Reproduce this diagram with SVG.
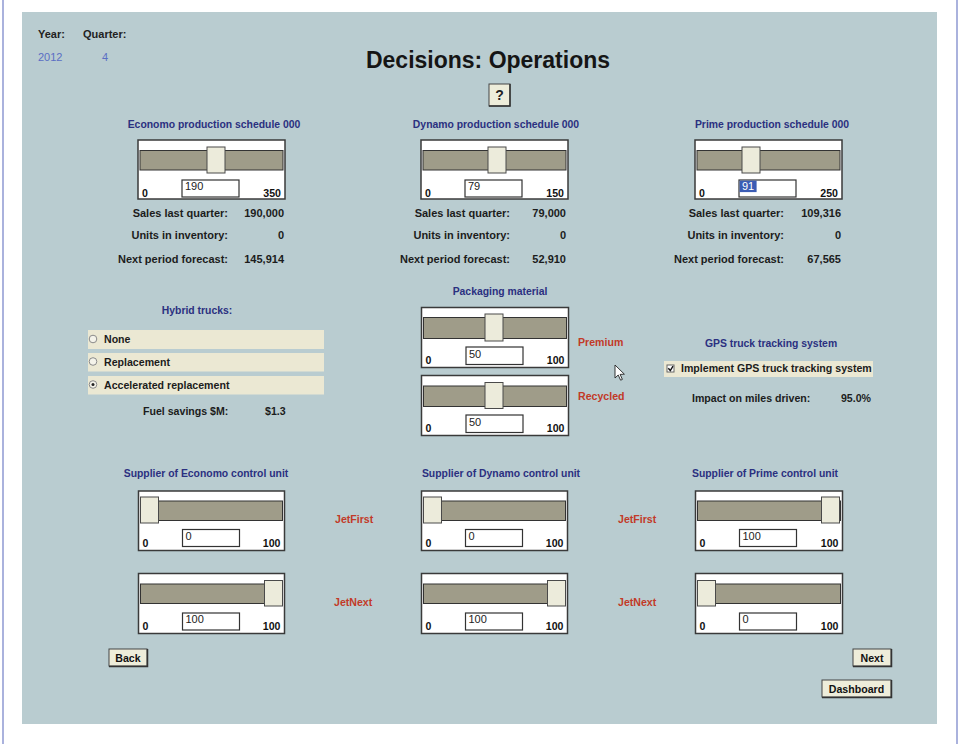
<svg xmlns="http://www.w3.org/2000/svg" width="961" height="744" viewBox="0 0 961 744">
<style>
text{font-family:"Liberation Sans",Arial,sans-serif}
.nt{font-weight:bold;font-size:10.4px;fill:#2b3080;text-anchor:middle}
.lb{font-weight:bold;font-size:10.6px;fill:#1c1c1c}
.lg{font-size:11px}
.rt{text-anchor:end}
.rd{font-weight:bold;font-size:10.6px;fill:#c23a28}
.box{fill:#fff;stroke:#3a3a3a;stroke-width:1.5}
.trk{fill:#9f9c89;stroke:#333;stroke-width:1}
.thm{fill:#ecebdb;stroke:#4a4a4a;stroke-width:1}
.inp{fill:#fff;stroke:#333;stroke-width:1.2}
.val{font-size:11px;fill:#222}
.num{font-weight:bold;font-size:10.6px;fill:#111}
.row{fill:#ebe8d3}
.btn{fill:#eeedda;stroke:#444;stroke-width:1}
.sh{fill:none;stroke:#333;stroke-width:1.5}
.bt{font-weight:bold;font-size:10.6px;fill:#111;text-anchor:middle}
</style>
<rect x="0" y="0" width="961" height="744" fill="#fff"/>
<line x1="3" y1="0" x2="3" y2="744" stroke="#8e98d2" stroke-width="1.5"/>
<line x1="957" y1="0" x2="957" y2="744" stroke="#8e98d2" stroke-width="1.5"/>
<rect x="22" y="12" width="915" height="712" fill="#b9ccd0"/>

<g id="header">
<text x="38" y="38" style="font-size:11px;font-weight:bold;fill:#222">Year:</text>
<text x="83" y="38" style="font-size:11px;font-weight:bold;fill:#222">Quarter:</text>
<text x="38" y="61" style="font-size:11px;fill:#5b6ec4">2012</text>
<text x="102" y="61" style="font-size:11px;fill:#5b6ec4">4</text>
<text x="488" y="68" style="font-size:23px;font-weight:bold;fill:#151515;text-anchor:middle">Decisions: Operations</text>
</g>

<g id="help-button">
<rect class="btn" x="489" y="84" width="21" height="22"/>
<polyline class="sh" points="489,106 510,106 510,84"/>
<text x="499.5" y="100" style="font-size:14px;font-weight:bold;fill:#222;text-anchor:middle">?</text>
</g>

<g id="economo-production">
<text class="nt" x="214" y="128">Economo production schedule 000</text>
<g transform="translate(138,140)">
<rect class="box" x="0" y="0" width="147" height="59"/>
<rect class="trk" x="2" y="10.5" width="143" height="19.5"/>
<rect class="thm" x="69" y="7" width="18" height="26"/>
<rect class="inp" x="44" y="40" width="57" height="17"/>
<text class="val" x="47" y="50">190</text>
<text class="num" x="4" y="56.5">0</text>
<text class="num rt" x="143" y="56.5">350</text>
</g>
<text class="lb lg rt" x="228" y="217">Sales last quarter:</text>
<text class="lb lg rt" x="284" y="217">190,000</text>
<text class="lb lg rt" x="228" y="239">Units in inventory:</text>
<text class="lb lg rt" x="284" y="239">0</text>
<text class="lb lg rt" x="228" y="263">Next period forecast:</text>
<text class="lb lg rt" x="284" y="263">145,914</text>
</g>

<g id="dynamo-production">
<text class="nt" x="496" y="128">Dynamo production schedule 000</text>
<g transform="translate(421,140)">
<rect class="box" x="0" y="0" width="147" height="59"/>
<rect class="trk" x="2" y="10.5" width="143" height="19.5"/>
<rect class="thm" x="67" y="7" width="18" height="26"/>
<rect class="inp" x="44" y="40" width="57" height="17"/>
<text class="val" x="47" y="50">79</text>
<text class="num" x="4" y="56.5">0</text>
<text class="num rt" x="143" y="56.5">150</text>
</g>
<text class="lb lg rt" x="510" y="217">Sales last quarter:</text>
<text class="lb lg rt" x="566" y="217">79,000</text>
<text class="lb lg rt" x="510" y="239">Units in inventory:</text>
<text class="lb lg rt" x="566" y="239">0</text>
<text class="lb lg rt" x="510" y="263">Next period forecast:</text>
<text class="lb lg rt" x="566" y="263">52,910</text>
</g>

<g id="prime-production">
<text class="nt" x="772" y="128">Prime production schedule 000</text>
<g transform="translate(695,140)">
<rect class="box" x="0" y="0" width="147" height="59"/>
<rect class="trk" x="2" y="10.5" width="143" height="19.5"/>
<rect class="thm" x="47" y="7" width="18" height="26"/>
<rect class="inp" x="44" y="40" width="57" height="17"/>
<rect x="44.6" y="40.6" width="17" height="11.5" fill="#3b5cb4"/>
<text class="val" x="47" y="50" style="fill:#fff">91</text>
<text class="num" x="4" y="56.5">0</text>
<text class="num rt" x="143" y="56.5">250</text>
</g>
<text class="lb lg rt" x="784" y="217">Sales last quarter:</text>
<text class="lb lg rt" x="841" y="217">109,316</text>
<text class="lb lg rt" x="784" y="239">Units in inventory:</text>
<text class="lb lg rt" x="841" y="239">0</text>
<text class="lb lg rt" x="784" y="263">Next period forecast:</text>
<text class="lb lg rt" x="841" y="263">67,565</text>
</g>

<g id="hybrid-trucks">
<text class="nt" x="197" y="314">Hybrid trucks:</text>
<rect class="row" x="88" y="330" width="236" height="19"/>
<rect class="row" x="88" y="353" width="236" height="18.5"/>
<rect class="row" x="88" y="376" width="236" height="18.5"/>
<circle cx="93" cy="339" r="3.8" fill="#f4f3ea" stroke="#8a8a8a" stroke-width="1"/>
<circle cx="93" cy="361.5" r="3.8" fill="#f4f3ea" stroke="#8a8a8a" stroke-width="1"/>
<circle cx="93" cy="384.5" r="3.8" fill="#f4f3ea" stroke="#8a8a8a" stroke-width="1"/>
<circle cx="93" cy="384.5" r="1.5" fill="#222"/>
<text class="lb" x="104" y="343">None</text>
<text class="lb" x="104" y="365.5">Replacement</text>
<text class="lb" x="104" y="388.5">Accelerated replacement</text>
<text class="lb" x="143" y="415">Fuel savings $M:</text>
<text class="lb" x="265" y="415">$1.3</text>
</g>

<g id="packaging-material">
<text class="nt" x="500" y="295">Packaging material</text>
<g transform="translate(421.5,307.5)">
<rect class="box" x="0" y="0" width="147" height="60"/>
<rect class="trk" x="2" y="10" width="143" height="21"/>
<rect class="thm" x="63.5" y="6.5" width="18" height="27"/>
<rect class="inp" x="44.5" y="39.5" width="57" height="17.5"/>
<text class="val" x="47.5" y="50">50</text>
<text class="num" x="4" y="56">0</text>
<text class="num rt" x="143" y="56">100</text>
</g>
<g transform="translate(421.5,375.5)">
<rect class="box" x="0" y="0" width="147" height="60"/>
<rect class="trk" x="2" y="10.5" width="143" height="20.5"/>
<rect class="thm" x="63.5" y="7" width="18" height="26"/>
<rect class="inp" x="44.5" y="39.5" width="57" height="17.5"/>
<text class="val" x="47.5" y="50">50</text>
<text class="num" x="4" y="56">0</text>
<text class="num rt" x="143" y="56">100</text>
</g>
<text class="rd" x="578" y="346">Premium</text>
<text class="rd" x="578" y="400">Recycled</text>
<path d="M615,365 L615,378 L618.2,375 L620.6,380.2 L622.4,379.4 L620.1,374.4 L624.4,374.2 Z" fill="#fff" stroke="#222" stroke-width="0.9"/>
</g>

<g id="gps-tracking">
<text class="nt" x="771" y="347">GPS truck tracking system</text>
<rect class="row" x="664" y="361" width="209" height="16"/>
<rect x="667" y="365" width="7" height="7" fill="#fff" stroke="#666" stroke-width="1"/>
<polyline points="668.3,368.3 670.3,370.5 673,366.2" fill="none" stroke="#111" stroke-width="1.4"/>
<text class="lb" x="681" y="372">Implement GPS truck tracking system</text>
<text class="lb" x="692" y="402">Impact on miles driven:</text>
<text class="lb rt" x="871" y="402">95.0%</text>
</g>

<g id="economo-supplier">
<text class="nt" x="206" y="477">Supplier of Economo control unit</text>
<g transform="translate(138.5,491)">
<rect class="box" x="0" y="0" width="146" height="59.5"/>
<rect class="trk" x="2" y="10" width="142" height="19.5"/>
<rect class="thm" x="2" y="6" width="18" height="26"/>
<rect class="inp" x="44" y="38.5" width="57" height="17"/>
<text class="val" x="47" y="48.5">0</text>
<text class="num" x="4" y="56">0</text>
<text class="num rt" x="142" y="56">100</text>
</g>
<g transform="translate(138.5,573.5)">
<rect class="box" x="0" y="0" width="146" height="60"/>
<rect class="trk" x="2" y="10.5" width="142" height="19.5"/>
<rect class="thm" x="126" y="7" width="18" height="25.5"/>
<rect class="inp" x="44" y="39.5" width="57" height="17"/>
<text class="val" x="47" y="49.5">100</text>
<text class="num" x="4" y="56.5">0</text>
<text class="num rt" x="142" y="56.5">100</text>
</g>
<text class="rd" x="335" y="523">JetFirst</text>
<text class="rd" x="334" y="606">JetNext</text>
</g>

<g id="dynamo-supplier">
<text class="nt" x="501" y="477">Supplier of Dynamo control unit</text>
<g transform="translate(421.5,491)">
<rect class="box" x="0" y="0" width="146" height="59.5"/>
<rect class="trk" x="2" y="10" width="142" height="19.5"/>
<rect class="thm" x="2" y="6" width="18" height="26"/>
<rect class="inp" x="44" y="38.5" width="57" height="17"/>
<text class="val" x="47" y="48.5">0</text>
<text class="num" x="4" y="56">0</text>
<text class="num rt" x="142" y="56">100</text>
</g>
<g transform="translate(421.5,573.5)">
<rect class="box" x="0" y="0" width="146" height="60"/>
<rect class="trk" x="2" y="10.5" width="142" height="19.5"/>
<rect class="thm" x="126" y="7" width="18" height="25.5"/>
<rect class="inp" x="44" y="39.5" width="57" height="17"/>
<text class="val" x="47" y="49.5">100</text>
<text class="num" x="4" y="56.5">0</text>
<text class="num rt" x="142" y="56.5">100</text>
</g>
<text class="rd" x="618" y="523">JetFirst</text>
<text class="rd" x="618" y="606">JetNext</text>
</g>

<g id="prime-supplier">
<text class="nt" x="765" y="477">Supplier of Prime control unit</text>
<g transform="translate(695.5,491)">
<rect class="box" x="0" y="0" width="147" height="59.5"/>
<rect class="trk" x="2" y="10" width="143" height="19.5"/>
<rect class="thm" x="126" y="6" width="18" height="26"/>
<rect class="inp" x="44" y="38.5" width="57" height="17"/>
<text class="val" x="47" y="48.5">100</text>
<text class="num" x="4" y="56">0</text>
<text class="num rt" x="143" y="56">100</text>
</g>
<g transform="translate(695.5,573.5)">
<rect class="box" x="0" y="0" width="147" height="60"/>
<rect class="trk" x="2" y="10.5" width="143" height="19.5"/>
<rect class="thm" x="2" y="7" width="18" height="25.5"/>
<rect class="inp" x="44" y="39.5" width="57" height="17"/>
<text class="val" x="47" y="49.5">0</text>
<text class="num" x="4" y="56.5">0</text>
<text class="num rt" x="143" y="56.5">100</text>
</g>
</g>

<g id="back-button">
<rect class="btn" x="109" y="649" width="38" height="17"/>
<polyline class="sh" points="109,666.5 147.5,666.5 147.5,649"/>
<text class="bt" x="128" y="661.5">Back</text>
</g>
<g id="next-button">
<rect class="btn" x="853" y="649" width="38" height="17"/>
<polyline class="sh" points="853,666.5 891.5,666.5 891.5,649"/>
<text class="bt" x="872" y="661.5">Next</text>
</g>
<g id="dashboard-button">
<rect class="btn" x="822" y="680" width="69" height="17"/>
<polyline class="sh" points="822,697.5 891.5,697.5 891.5,680"/>
<text class="bt" x="856.5" y="692.5">Dashboard</text>
</g>
<g id="connectors"/>
</svg>
